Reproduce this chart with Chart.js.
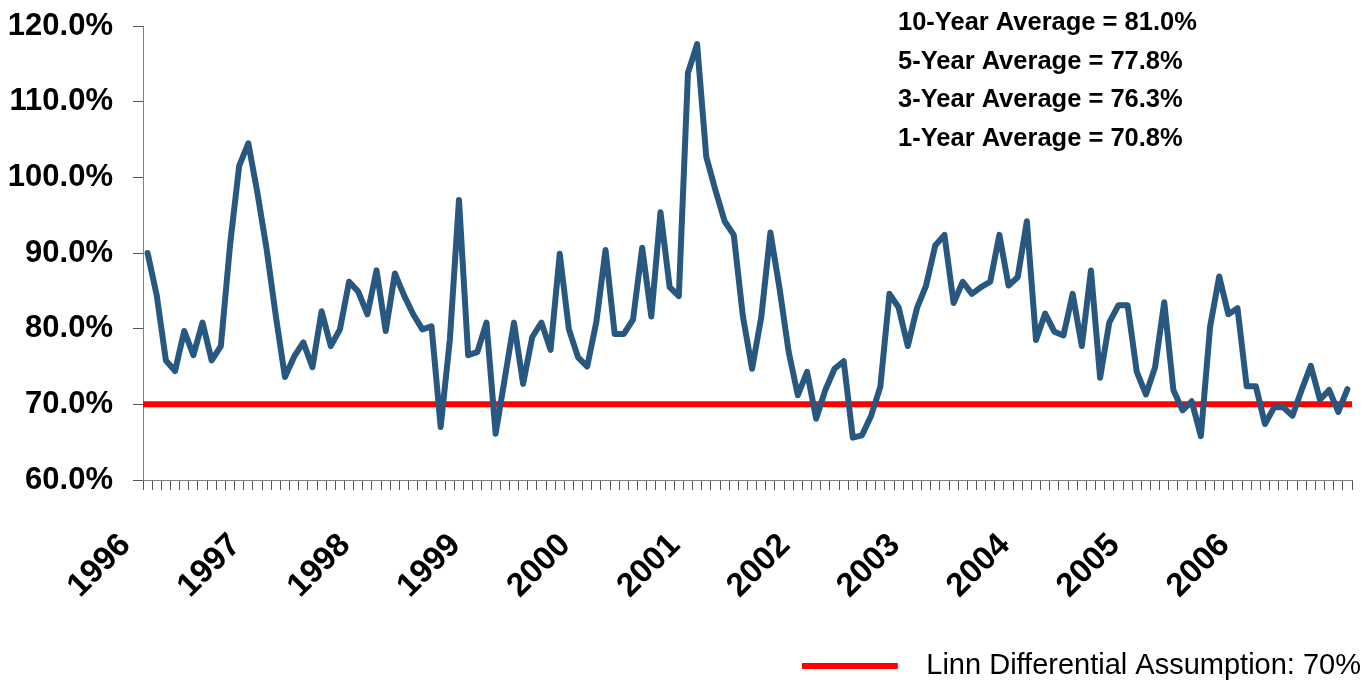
<!DOCTYPE html>
<html>
<head>
<meta charset="utf-8">
<script src="https://cdn.jsdelivr.net/npm/chart.js@4/dist/chart.umd.min.js"></script>
<style>
html,body{margin:0;padding:0;background:#fff;overflow:hidden;}
#c{display:block;}
</style>
</head>
<body>
<canvas id="c" width="1371" height="681"></canvas>
<script>
// ---- data ----
const years = ['1996','1997','1998','1999','2000','2001','2002','2003','2004','2005','2006'];
const monthsPerYear = 12;
const differential = [
  90.0, 84.4, 75.8, 74.4, 79.7, 76.5, 80.8, 75.8, 77.7, 91.0, 101.5, 104.5,
  97.9, 90.5, 81.7, 73.6, 76.3, 78.2, 74.9, 82.3, 77.7, 79.9, 86.2, 84.9,
  81.9, 87.7, 79.7, 87.3, 84.4, 81.9, 79.9, 80.3, 67.0, 78.5, 97.0, 76.5,
  76.9, 80.8, 66.1, 73.4, 80.8, 72.7, 78.9, 80.8, 77.2, 89.9, 79.9, 76.2,
  75.0, 80.9, 90.4, 79.3, 79.3, 81.2, 90.7, 81.6, 95.4, 85.5, 84.3, 113.8,
  117.6, 102.7, 98.3, 94.2, 92.4, 81.6, 74.7, 81.5, 92.7, 85.3, 76.9, 71.2,
  74.3, 68.1, 71.9, 74.7, 75.7, 65.6, 65.9, 68.5, 72.3, 84.6, 82.8, 77.7,
  82.7, 85.7, 91.0, 92.4, 83.4, 86.2, 84.6, 85.5, 86.2, 92.4, 85.7, 86.8,
  94.2, 78.5, 82.0, 79.6, 79.1, 84.6, 77.7, 87.7, 73.5, 80.8, 83.1, 83.1,
  74.3, 71.3, 74.9, 83.5, 71.9, 69.2, 70.4, 65.8, 80.2, 86.9, 81.9, 82.7,
  72.4, 72.4, 67.4, 69.6, 69.6, 68.5, 71.9, 75.1, 70.6, 71.9, 69.0, 72.0
];
const assumptionValue = 70;
const assumptionLabel = 'Linn Differential Assumption: 70%';
const averageNotes = [
  '10-Year Average = 81.0%',
  '5-Year Average = 77.8%',
  '3-Year Average = 76.3%',
  '1-Year Average = 70.8%'
];
const yMin = 60, yMax = 120, yStep = 10;

// ---- categories (one per month) ----
const categories = [];
years.forEach(y => { for (let m = 1; m <= monthsPerYear; m++) categories.push(y + '-' + String(m).padStart(2, '0')); });

const FONT = "'Liberation Sans', Arial, sans-serif";
const BLUE = '#28577F';
const RED = '#FF0000';

// legend swatch (red bar followed by a transparent gap)
const swatch = document.createElement('canvas');
swatch.width = 110; swatch.height = 6;
(function(){ const g = swatch.getContext('2d'); g.fillStyle = RED; g.fillRect(0, 0, 96, 6); })();

const notesPlugin = {
  id: 'notes',
  afterDraw(chart) {
    const ctx = chart.ctx;
    ctx.save();
    ctx.font = "bold 25.5px " + FONT;
    ctx.fillStyle = '#000';
    ctx.textAlign = 'left';
    ctx.textBaseline = 'middle';
    averageNotes.forEach((t, i) => ctx.fillText(t, 898, 23 + i * 38.7));
    ctx.restore();
  }
};

const noPad = s => { s.paddingLeft = 0; s.paddingRight = 0; s.paddingTop = 0; s.paddingBottom = 0; };

new Chart(document.getElementById('c'), {
  type: 'line',
  data: {
    labels: categories,
    datasets: [
      {
        label: 'Differential',
        data: differential,
        xAxisID: 'x', yAxisID: 'y',
        borderColor: BLUE, backgroundColor: BLUE,
        borderWidth: 6, pointRadius: 0, tension: 0,
        borderJoinStyle: 'round', borderCapStyle: 'round'
      },
      {
        label: assumptionLabel,
        data: [{x: 0, y: assumptionValue}, {x: 1, y: assumptionValue}],
        xAxisID: 'x2', yAxisID: 'y',
        borderColor: RED, backgroundColor: RED,
        borderWidth: 6, pointRadius: 0, borderCapStyle: 'round'
      }
    ]
  },
  options: {
    responsive: false,
    animation: false,
    layout: { padding: { top: 26, left: 0, right: 0, bottom: -9 } },
    plugins: {
      tooltip: { enabled: false },
      legend: {
        position: 'bottom',
        align: 'end',
        labels: {
          usePointStyle: true,
          pointStyleWidth: 110,
          padding: 10,
          color: '#000',
          font: { family: FONT, size: 29 },
          generateLabels: () => [{
            text: assumptionLabel,
            fillStyle: RED, strokeStyle: RED, lineWidth: 0,
            pointStyle: swatch, hidden: false, datasetIndex: 1
          }]
        }
      }
    },
    scales: {
      x: {
        type: 'category',
        offset: true,
        grid: { offset: true, drawOnChartArea: false, tickLength: 10, color: '#555', lineWidth: 1 },
        border: { display: true, color: '#808080', width: 1 },
        ticks: {
          autoSkip: false, maxRotation: 45, minRotation: 45,
          labelOffset: -22, padding: 36,
          color: '#000',
          font: { family: FONT, size: 33, weight: 'bold' },
          callback: (v, i) => (i % monthsPerYear === 0 ? categories[i].slice(0, 4) : '')
        },
        afterFit: s => { s.height = 161; noPad(s); }
      },
      x2: { type: 'linear', min: 0, max: 1, display: false, afterFit: noPad },
      y: {
        min: yMin, max: yMax,
        grid: { drawOnChartArea: false, tickLength: 10, color: '#555' },
        border: { display: true, color: '#808080', width: 1 },
        ticks: {
          stepSize: yStep, padding: 20, color: '#000',
          font: { family: FONT, size: 31, weight: 'bold' },
          callback: v => v.toFixed(1) + '%'
        },
        afterFit: s => { s.width = 143; noPad(s); }
      },
      yR: {
        position: 'right', display: true,
        grid: { display: false }, border: { display: false },
        ticks: { display: false },
        afterFit: s => { s.width = 19; noPad(s); }
      }
    }
  },
  plugins: [notesPlugin]
});
</script>
</body>
</html>
